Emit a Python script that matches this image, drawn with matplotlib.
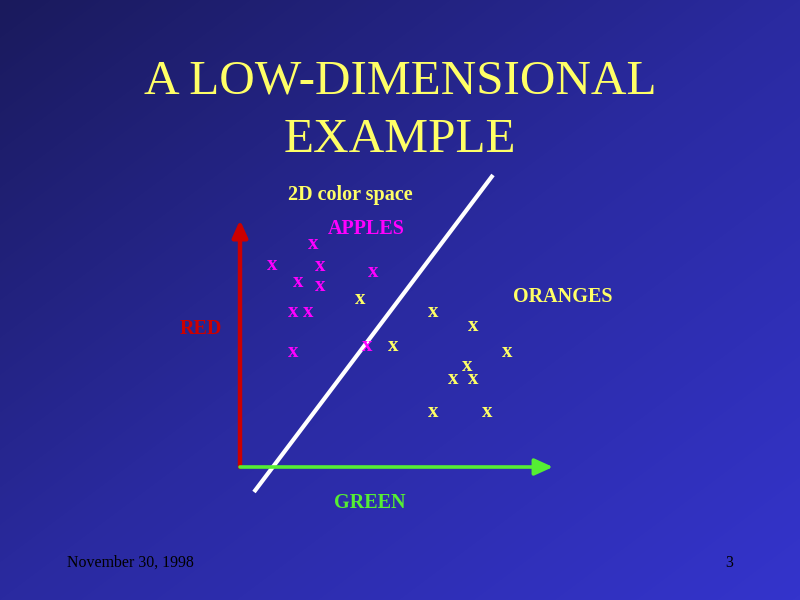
import numpy as np
import matplotlib
matplotlib.use("Agg")
import matplotlib.pyplot as plt
from matplotlib.colors import LinearSegmentedColormap

# Samples in (green, red) colour space; units are screen pixels from the origin
apples_green = [73, 32, 80, 58, 80, 133, 53, 68, 53, 127]
apples_red = [222, 201, 200, 184, 180, 194, 154, 154, 114, 120]
oranges_green = [120, 193, 233, 153, 267, 227, 213, 233, 193, 247]
oranges_red = [167, 154, 140, 120, 114, 100, 87, 87, 54, 54]

# Separating boundary endpoints (green, red)
boundary_green = [14, 253]
boundary_red = [-26, 291]

title_lines = ["A LOW-DIMENSIONAL", "EXAMPLE"]
footer_date = "November 30, 1998"
page_number = "3"

W, H = 800, 600
fig = plt.figure(figsize=(8, 6), dpi=100)

# Background: diagonal gradient, dark navy to brighter blue
bg = fig.add_axes([0, 0, 1, 1])
bg.set_xlim(0, W)
bg.set_ylim(H, 0)
bg.axis("off")
yy, xx = np.mgrid[0:H, 0:W]
t = (xx / W + yy / H) / 2.0
cmap = LinearSegmentedColormap.from_list("slide", ["#1a1a5c", "#2a2aa0", "#3434cc"])
bg.imshow(t, cmap=cmap, extent=[0, W, H, 0], aspect="auto", zorder=0)

serif = ["Liberation Serif", "DejaVu Serif"]
yellow = "#ffff66"
magenta = "#ff00ff"
red = "#cc0000"
green = "#55ee33"

bg.text(400, 93, title_lines[0], ha="center", va="baseline", fontsize=35.5,
        color=yellow, family=serif)
bg.text(400, 152, title_lines[1], ha="center", va="baseline", fontsize=35.5,
        color=yellow, family=serif)
bg.text(67, 563, footer_date, ha="left", va="center", fontsize=11.4,
        color="black", family=serif)
bg.text(733, 563, page_number, ha="right", va="center", fontsize=11.4,
        color="black", family=serif)

# Colour-space plot: origin at pixel (240, 466)
ox, oy = 240, 466
aw, ah = 340, 300
ax = fig.add_axes([ox / W, (H - oy) / H, aw / W, ah / H])
ax.set_xlim(0, aw)
ax.set_ylim(0, ah)
ax.axis("off")
ax.patch.set_alpha(0)

# Axes arrows
ax.annotate("", xy=(0, 246), xytext=(0, -1), annotation_clip=False,
            arrowprops=dict(arrowstyle="-|>,head_length=1.0,head_width=0.45",
                            color=red, lw=3.2, shrinkA=0, shrinkB=0))
ax.annotate("", xy=(313, -1), xytext=(0, -1), annotation_clip=False,
            arrowprops=dict(arrowstyle="-|>,head_length=1.1,head_width=0.5",
                            color=green, lw=2.6, shrinkA=0, shrinkB=0))

# Decision boundary
ax.plot(boundary_green, boundary_red, color="white", lw=3, clip_on=False,
        solid_capstyle="butt")

for g, r in zip(apples_green, apples_red):
    ax.text(g, r, "x", ha="center", va="center", fontsize=15, fontweight="bold",
            color=magenta, family=serif)
for g, r in zip(oranges_green, oranges_red):
    ax.text(g, r, "x", ha="center", va="center", fontsize=15, fontweight="bold",
            color=yellow, family=serif)

bg.text(350, 195, "2D color space", ha="center", va="center", fontsize=14.5,
        fontweight="bold", color=yellow, family=serif)
bg.text(366, 229, "APPLES", ha="center", va="center", fontsize=14.5,
        fontweight="bold", color=magenta, family=serif)
bg.text(563, 297, "ORANGES", ha="center", va="center", fontsize=14.5,
        fontweight="bold", color=yellow, family=serif)
bg.text(201, 329, "RED", ha="center", va="center", fontsize=14.5,
        fontweight="bold", color=red, family=serif)
bg.text(370, 503, "GREEN", ha="center", va="center", fontsize=14.5,
        fontweight="bold", color=green, family=serif)

fig.savefig("out.png", dpi=100)
